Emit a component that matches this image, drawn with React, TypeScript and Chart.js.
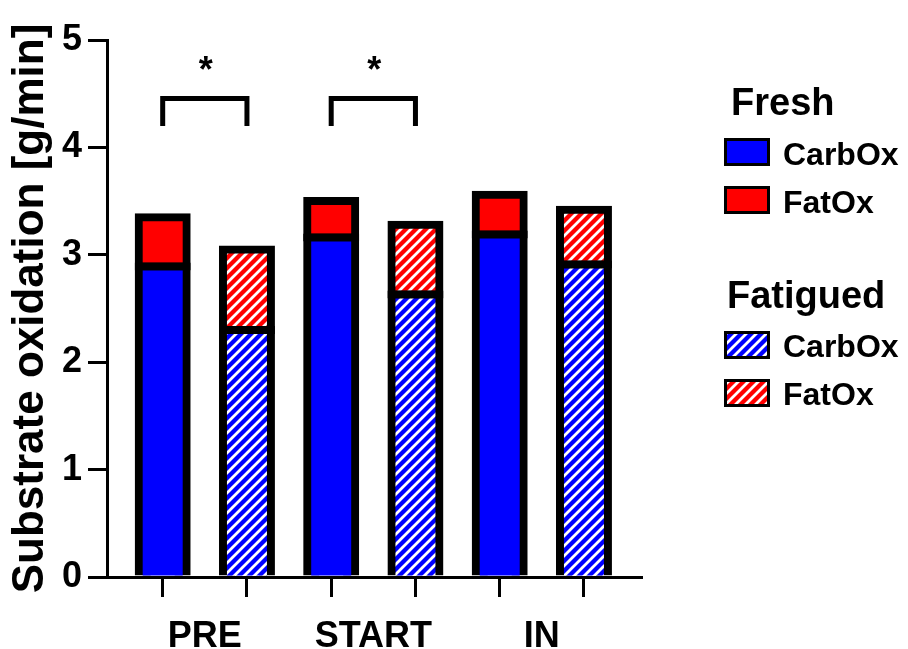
import React, { useEffect, useRef } from "react";
import { Chart, registerables } from "chart.js";

Chart.register(...registerables);

// Substrate oxidation (g/min) per timepoint, fresh vs fatigued state
const timepoints = ["PRE", "START", "IN"];
const freshCarbOx = [2.89, 3.16, 3.19];
const freshFatOx = [0.46, 0.34, 0.37];
const fatiguedCarbOx = [2.3, 2.63, 2.91];
const fatiguedFatOx = [0.75, 0.65, 0.51];
const yTickValues = [0, 1, 2, 3, 4, 5];
// timepoints with a significant fresh vs fatigued difference
const significantTimepoints = [0, 1];
const significanceLabel = "*";

const FONT = "'Liberation Sans', Arial, Helvetica, sans-serif";
const BLUE = "#0000ff";
const RED = "#ff0000";
const BLACK = "#000000";

// bracket geometry in value units
const BRACKET_TOP = 4.455;
const BRACKET_FOOT = 4.2;
const STAR_BASE = 4.61;

// x range of the bar axis (bar slots at 0..5)
const X_MIN = -0.661;
const X_MAX = 5.677;

function makeHatch(color: string): CanvasPattern {
  const size = 10;
  const c = document.createElement("canvas");
  c.width = size;
  c.height = size;
  const g = c.getContext("2d")!;
  g.fillStyle = color;
  g.fillRect(0, 0, size, size);
  g.strokeStyle = "#ffffff";
  g.lineWidth = 2.8;
  g.beginPath();
  g.moveTo(-2, size + 2);
  g.lineTo(size + 2, -2);
  g.moveTo(-2, 2);
  g.lineTo(2, -2);
  g.moveTo(size - 2, size + 2);
  g.lineTo(size + 2, size - 2);
  g.stroke();
  return g.createPattern(c, "repeat")!;
}

export default function App() {
  const canvasRef = useRef<HTMLCanvasElement>(null);

  useEffect(() => {
    document.body.style.margin = "0";
    const canvas = canvasRef.current;
    if (!canvas) return;

    const blueHatch = makeHatch(BLUE);
    const redHatch = makeHatch(RED);

    // fresh bars sit at even x positions, fatigued bars at odd ones
    const carbPoints = timepoints.flatMap((_, i) => [
      { x: 2 * i, y: freshCarbOx[i] },
      { x: 2 * i + 1, y: fatiguedCarbOx[i] },
    ]);
    const fatPoints = timepoints.flatMap((_, i) => [
      { x: 2 * i, y: freshFatOx[i] },
      { x: 2 * i + 1, y: fatiguedFatOx[i] },
    ]);
    const carbColors = timepoints.flatMap(() => [BLUE, blueHatch]);
    const fatColors = timepoints.flatMap(() => [RED, redHatch]);

    const annotations = {
      id: "annotations",
      afterDraw(chart: any) {
        const ctx = chart.ctx as CanvasRenderingContext2D;
        const xs = chart.scales.x;
        const ys = chart.scales.y;

        // significance brackets
        ctx.save();
        ctx.strokeStyle = BLACK;
        ctx.lineWidth = 5;
        ctx.lineJoin = "miter";
        ctx.lineCap = "butt";
        ctx.fillStyle = BLACK;
        ctx.font = `bold 36px ${FONT}`;
        ctx.textAlign = "center";
        ctx.textBaseline = "alphabetic";
        significantTimepoints.forEach((i) => {
          const xl = xs.getPixelForValue(2 * i);
          const xr = xs.getPixelForValue(2 * i + 1);
          const yt = ys.getPixelForValue(BRACKET_TOP);
          const yf = ys.getPixelForValue(BRACKET_FOOT);
          ctx.beginPath();
          ctx.moveTo(xl, yf);
          ctx.lineTo(xl, yt);
          ctx.lineTo(xr, yt);
          ctx.lineTo(xr, yf);
          ctx.stroke();
          ctx.fillText(significanceLabel, (xl + xr) / 2 + 1, ys.getPixelForValue(STAR_BASE));
        });
        ctx.restore();

        // grouped legend
        ctx.save();
        const box = (x: number, y: number, fill: string | CanvasPattern) => {
          ctx.fillStyle = fill as any;
          ctx.fillRect(x, y, 46, 28);
          ctx.strokeStyle = BLACK;
          ctx.lineWidth = 3;
          ctx.strokeRect(x + 1.5, y + 1.5, 43, 25);
        };
        ctx.textAlign = "left";
        ctx.textBaseline = "alphabetic";
        ctx.fillStyle = BLACK;
        ctx.font = `bold 38px ${FONT}`;
        ctx.fillText("Fresh", 731, 115);
        ctx.fillText("Fatigued", 727, 308);

        box(724, 138, BLUE);
        box(724, 186, RED);
        box(724, 331, blueHatch);
        box(724, 379, redHatch);

        ctx.fillStyle = BLACK;
        ctx.font = `bold 32px ${FONT}`;
        ctx.fillText("CarbOx", 783, 165);
        ctx.fillText("FatOx", 783, 213);
        ctx.fillText("CarbOx", 783, 357);
        ctx.fillText("FatOx", 783, 405);
        ctx.restore();
      },
    };

    const barOpts = {
      borderColor: BLACK,
      borderWidth: 8,
      inflateAmount: 4,
      barThickness: 48,
    };

    const chart = new Chart(canvas, {
      type: "bar",
      data: {
        datasets: [
          {
            label: "CarbOx",
            data: carbPoints as any,
            backgroundColor: carbColors as any,
            borderSkipped: "bottom",
            ...barOpts,
          },
          {
            label: "FatOx",
            data: fatPoints as any,
            backgroundColor: fatColors as any,
            borderSkipped: false,
            ...barOpts,
          },
        ],
      },
      options: {
        responsive: false,
        animation: false,
        events: [],
        layout: { padding: { top: 40, right: 267, bottom: 0, left: 0 } },
        plugins: {
          legend: { display: false },
          tooltip: { enabled: false },
          title: { display: false },
        },
        scales: {
          x: {
            type: "linear",
            stacked: true,
            offset: false,
            min: X_MIN,
            max: X_MAX,
            z: 1,
            afterBuildTicks: (scale: any) => {
              scale.ticks = timepoints.flatMap((_, i) => [{ value: 2 * i }, { value: 2 * i + 1 }]);
            },
            afterFit: (scale: any) => {
              scale.height = 20;
            },
            ticks: { display: false },
            grid: {
              display: true,
              offset: false,
              drawOnChartArea: false,
              drawTicks: true,
              tickLength: 20,
              lineWidth: 3,
              color: BLACK,
            },
            border: { display: true, width: 3, color: BLACK },
          },
          xLabels: {
            type: "linear",
            position: "bottom",
            offset: false,
            min: X_MIN,
            max: X_MAX,
            afterBuildTicks: (scale: any) => {
              scale.ticks = timepoints.map((_, i) => ({ value: 2 * i + 0.5 }));
            },
            afterFit: (scale: any) => {
              scale.height = 52;
            },
            ticks: {
              autoSkip: false,
              maxRotation: 0,
              padding: 18,
              color: BLACK,
              font: { family: FONT, size: 36, weight: "bold" },
              callback: (_v: any, index: number) => timepoints[index],
            },
            grid: { display: false, offset: false, drawTicks: false },
            border: { display: false },
          },
          y: {
            type: "linear",
            stacked: true,
            min: 0,
            max: 5,
            z: 1,
            afterBuildTicks: (scale: any) => {
              scale.ticks = yTickValues.map((v) => ({ value: v }));
            },
            afterFit: (scale: any) => {
              scale.width = 107;
            },
            ticks: {
              padding: 6,
              color: BLACK,
              font: { family: FONT, size: 36, weight: "bold" },
            },
            grid: {
              display: true,
              drawOnChartArea: false,
              drawTicks: true,
              tickLength: 19,
              lineWidth: 3,
              color: BLACK,
            },
            border: { display: true, width: 3, color: BLACK },
            title: {
              display: true,
              text: "Substrate oxidation [g/min]",
              color: BLACK,
              font: { family: FONT, size: 44, weight: "bold" },
              padding: { top: 4, bottom: 0 },
            },
          },
        },
      } as any,
      plugins: [annotations],
    });

    return () => chart.destroy();
  }, []);

  return (
    <div style={{ width: 908, height: 649 }}>
      <canvas ref={canvasRef} width={908} height={649} style={{ display: "block" }} />
    </div>
  );
}
